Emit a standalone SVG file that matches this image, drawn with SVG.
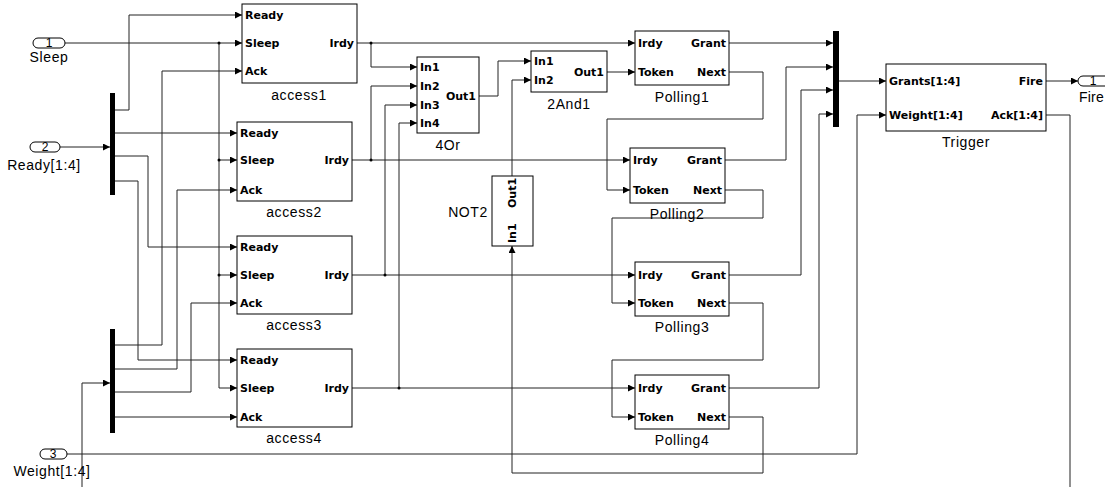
<svg xmlns="http://www.w3.org/2000/svg" width="1105" height="487" viewBox="0 0 1105 487">
<style>
.blk{fill:#fff;stroke:#000;stroke-width:1}
.bar{fill:#000}
.ln{fill:none;stroke:#222;stroke-width:1}
.ar{marker-end:url(#arr)}
.pl{font-family:"DejaVu Sans",sans-serif;font-weight:bold;font-size:11px;fill:#000}
.pr{font-family:"DejaVu Sans",sans-serif;font-weight:bold;font-size:11px;fill:#000;text-anchor:end}
.nm{font-family:"Liberation Sans",Arial,sans-serif;font-size:14px;letter-spacing:0.6px;fill:#000;text-anchor:middle}
.num{font-family:"Liberation Sans",Arial,sans-serif;font-size:12px;fill:#000;text-anchor:middle}
.dot{fill:#000}
</style>
<defs>
<marker id="arr" markerUnits="userSpaceOnUse" markerWidth="8" markerHeight="8" refX="7" refY="3.5" orient="auto">
<path d="M0,0 L7,3.5 L0,7 z" fill="#000"/>
</marker>
</defs>
<g id="connectors">
<path class="ln ar" d="M65,43 H242"/>
<path class="ln ar" d="M219,43 V388 H237"/>
<path class="ln ar" d="M219,160 H237"/>
<path class="ln ar" d="M219,275 H237"/>
<path class="ln ar" d="M60,147 H110"/>
<path class="ln ar" d="M115,110 H129 V15 H242"/>
<path class="ln ar" d="M115,133 H237"/>
<path class="ln ar" d="M115,156 H148 V247 H237"/>
<path class="ln ar" d="M115,181 H138 V360 H237"/>
<path class="ln ar" d="M82,487 V383 H110"/>
<path class="ln ar" d="M115,345 H162 V71 H242"/>
<path class="ln ar" d="M115,369 H177 V190 H237"/>
<path class="ln ar" d="M115,392 H191 V303 H237"/>
<path class="ln ar" d="M115,417 H237"/>
<path class="ln ar" d="M357,43 H635"/>
<path class="ln ar" d="M371,43 V67 H417"/>
<path class="ln ar" d="M352,160 H630"/>
<path class="ln ar" d="M371,160 V86 H417"/>
<path class="ln ar" d="M352,275 H635"/>
<path class="ln ar" d="M385,275 V105 H417"/>
<path class="ln ar" d="M352,388 H635"/>
<path class="ln ar" d="M399,388 V123 H417"/>
<path class="ln ar" d="M479,96 H498 V61 H531"/>
<path class="ln ar" d="M607,72 H635"/>
<path class="ln ar" d="M512,176 V80 H531"/>
<path class="ln ar" d="M729,72 H763 V119 H607 V190 H630"/>
<path class="ln ar" d="M725,190 H763 V218 H612 V303 H635"/>
<path class="ln ar" d="M729,303 H763 V360 H612 V417 H635"/>
<path class="ln ar" d="M729,417 H763 V473 H512 V246"/>
<path class="ln ar" d="M729,43 H833"/>
<path class="ln ar" d="M725,160 H786 V67 H833"/>
<path class="ln ar" d="M729,275 H801 V90 H833"/>
<path class="ln ar" d="M729,388 H819 V114 H833"/>
<path class="ln ar" d="M839,81 H886"/>
<path class="ln ar" d="M67,454 H857 V115 H886"/>
<path class="ln ar" d="M1046,81 H1078"/>
<path class="ln" d="M1046,115 H1070 V487"/>
<circle class="dot" cx="219" cy="43" r="1.5"/>
<circle class="dot" cx="219" cy="160" r="1.5"/>
<circle class="dot" cx="219" cy="275" r="1.5"/>
<circle class="dot" cx="371" cy="43" r="1.5"/>
<circle class="dot" cx="371" cy="160" r="1.5"/>
<circle class="dot" cx="385" cy="275" r="1.5"/>
<circle class="dot" cx="399" cy="388" r="1.5"/>
</g>
<g id="in_sleep">
<rect class="blk" x="33" y="38" width="32" height="10" rx="5"/>
<text class="num" x="49" y="47">1</text>
<text class="nm" x="49" y="62">Sleep</text>
</g>
<g id="in_ready">
<rect class="blk" x="30" y="142" width="30" height="10" rx="5"/>
<text class="num" x="45" y="151">2</text>
<text class="nm" x="44" y="170">Ready[1:4]</text>
</g>
<g id="in_weight">
<rect class="blk" x="40" y="449" width="27" height="10" rx="5"/>
<text class="num" x="53" y="458">3</text>
<text class="nm" x="52" y="476">Weight[1:4]</text>
</g>
<g id="out_fire">
<rect class="blk" x="1078" y="76" width="34" height="10" rx="5"/>
<text class="num" x="1093" y="85">1</text>
<text class="nm" x="1079" y="102" style="text-anchor:start;letter-spacing:0.2px">Fire</text>
</g>
<g id="demux_ready"><rect class="bar" x="110" y="93" width="5" height="102"/></g>
<g id="demux_ack"><rect class="bar" x="110" y="329" width="5" height="104"/></g>
<g id="mux_grants"><rect class="bar" x="833" y="31" width="6" height="96"/></g>
<g id="access1">
<rect class="blk" x="242" y="4" width="115" height="79"/>
<text class="pl" x="245" y="19">Ready</text>
<text class="pl" x="245" y="47">Sleep</text>
<text class="pl" x="245" y="75">Ack</text>
<text class="pr" x="354" y="47">Irdy</text>
<text class="nm" x="299" y="100">access1</text>
</g>
<g id="access2">
<rect class="blk" x="237" y="122" width="115" height="79"/>
<text class="pl" x="240" y="137">Ready</text>
<text class="pl" x="240" y="164">Sleep</text>
<text class="pl" x="240" y="194">Ack</text>
<text class="pr" x="349" y="164">Irdy</text>
<text class="nm" x="294" y="217">access2</text>
</g>
<g id="access3">
<rect class="blk" x="237" y="236" width="115" height="78"/>
<text class="pl" x="240" y="251">Ready</text>
<text class="pl" x="240" y="279">Sleep</text>
<text class="pl" x="240" y="307">Ack</text>
<text class="pr" x="349" y="279">Irdy</text>
<text class="nm" x="294" y="330">access3</text>
</g>
<g id="access4">
<rect class="blk" x="237" y="349" width="115" height="78"/>
<text class="pl" x="240" y="364">Ready</text>
<text class="pl" x="240" y="392">Sleep</text>
<text class="pl" x="240" y="421">Ack</text>
<text class="pr" x="349" y="392">Irdy</text>
<text class="nm" x="294" y="443">access4</text>
</g>
<g id="or4">
<rect class="blk" x="417" y="57" width="62" height="76"/>
<text class="pl" x="420" y="71">In1</text>
<text class="pl" x="420" y="90">In2</text>
<text class="pl" x="420" y="109">In3</text>
<text class="pl" x="420" y="127">In4</text>
<text class="pr" x="476" y="100">Out1</text>
<text class="nm" x="448" y="150">4Or</text>
</g>
<g id="and2">
<rect class="blk" x="531" y="51" width="76" height="41"/>
<text class="pl" x="534" y="65">In1</text>
<text class="pl" x="534" y="84">In2</text>
<text class="pr" x="604" y="76">Out1</text>
<text class="nm" x="569" y="109">2And1</text>
</g>
<g id="not2">
<rect class="blk" x="492" y="176" width="41" height="70"/>
<text class="pl" transform="translate(516,208) rotate(-90)">Out1</text>
<text class="pl" transform="translate(516,243) rotate(-90)">In1</text>
<text class="nm" x="468" y="217">NOT2</text>
</g>
<g id="polling1">
<rect class="blk" x="635" y="31" width="94" height="54"/>
<text class="pl" x="638" y="47">Irdy</text>
<text class="pl" x="638" y="76">Token</text>
<text class="pr" x="726" y="47">Grant</text>
<text class="pr" x="726" y="76">Next</text>
<text class="nm" x="682" y="102">Polling1</text>
</g>
<g id="polling2">
<rect class="blk" x="630" y="148" width="95" height="55"/>
<text class="pl" x="633" y="164">Irdy</text>
<text class="pl" x="633" y="194">Token</text>
<text class="pr" x="722" y="164">Grant</text>
<text class="pr" x="722" y="194">Next</text>
<text class="nm" x="677" y="219">Polling2</text>
</g>
<g id="polling3">
<rect class="blk" x="635" y="262" width="94" height="54"/>
<text class="pl" x="638" y="279">Irdy</text>
<text class="pl" x="638" y="307">Token</text>
<text class="pr" x="726" y="279">Grant</text>
<text class="pr" x="726" y="307">Next</text>
<text class="nm" x="682" y="332">Polling3</text>
</g>
<g id="polling4">
<rect class="blk" x="635" y="375" width="94" height="54"/>
<text class="pl" x="638" y="392">Irdy</text>
<text class="pl" x="638" y="421">Token</text>
<text class="pr" x="726" y="392">Grant</text>
<text class="pr" x="726" y="421">Next</text>
<text class="nm" x="682" y="445">Polling4</text>
</g>
<g id="trigger">
<rect class="blk" x="886" y="64" width="160" height="67"/>
<text class="pl" x="889" y="85">Grants[1:4]</text>
<text class="pl" x="889" y="119">Weight[1:4]</text>
<text class="pr" x="1043" y="85">Fire</text>
<text class="pr" x="1043" y="119">Ack[1:4]</text>
<text class="nm" x="966" y="147">Trigger</text>
</g>
</svg>
